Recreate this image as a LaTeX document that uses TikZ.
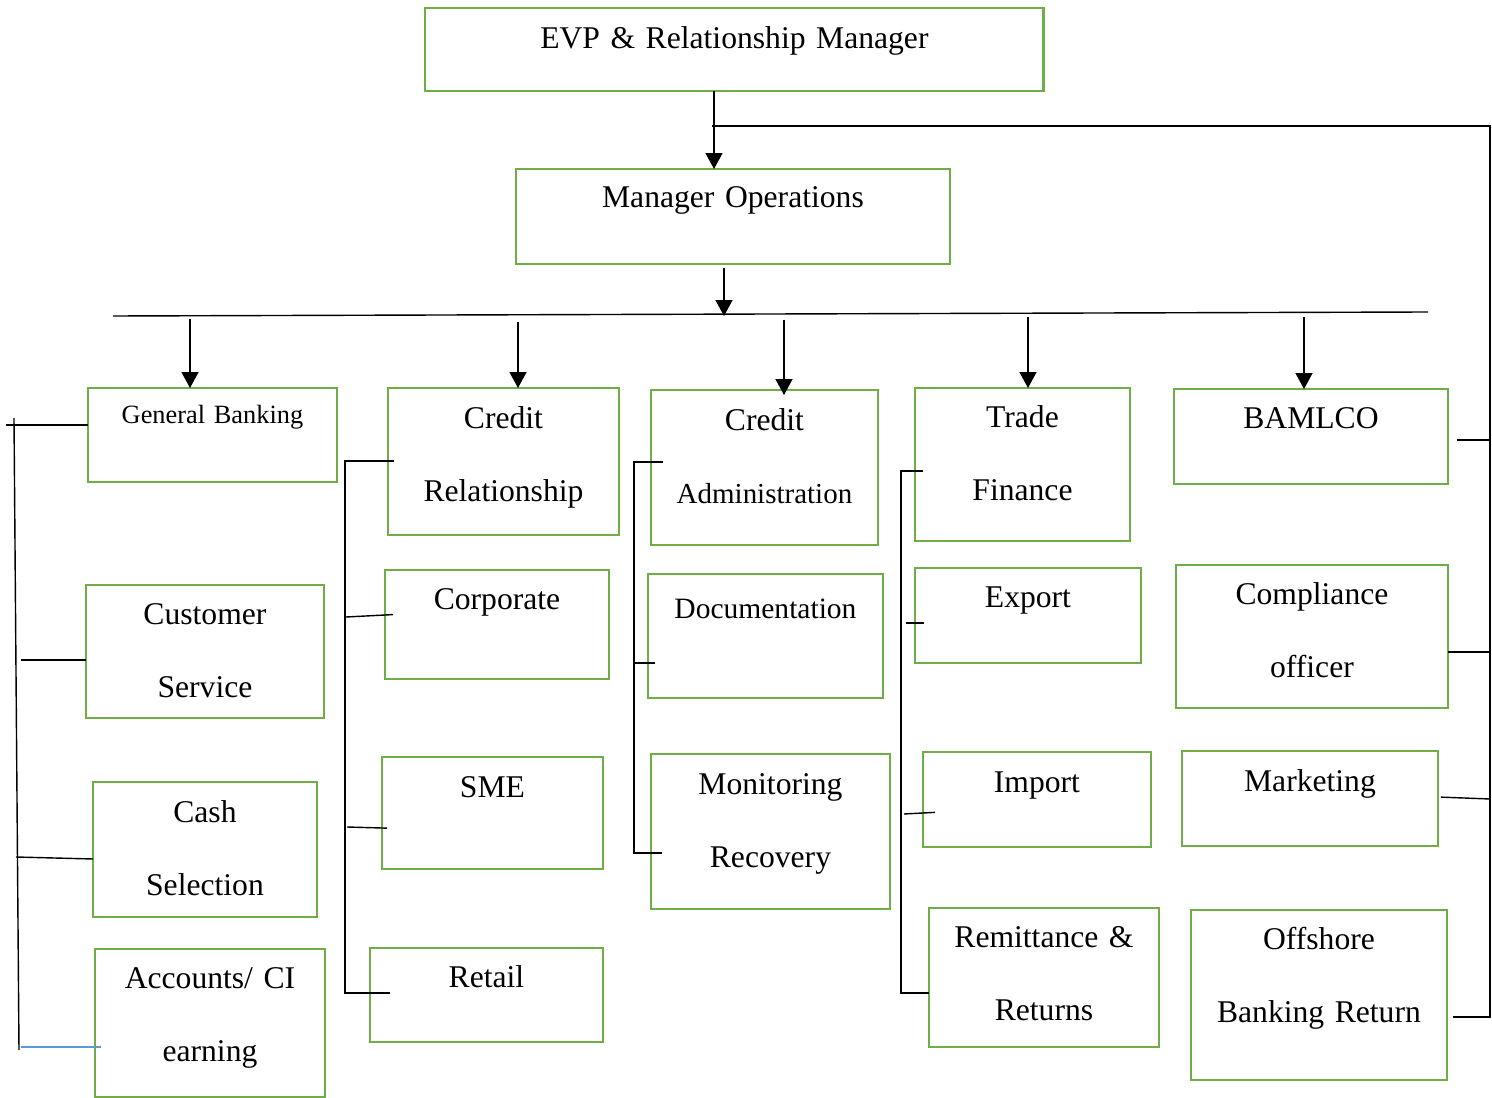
\documentclass[tikz,border=0pt]{standalone}
\usepackage{fontspec}
\setmainfont{Liberation Serif}
\usetikzlibrary{arrows.meta}
\definecolor{boxgreen}{RGB}{112,173,71}
\definecolor{linkblue}{RGB}{91,155,213}
\tikzset{
  orgbox/.style={draw=boxgreen, line width=1.6pt, inner sep=0pt, outer sep=0pt,
    anchor=north west, align=center, text height=0.8cm,
    font=\fontsize{18}{41.4}\selectfont},
  link/.style={line width=0.8pt},
  down/.style={link, -{Triangle[width=0.34cm,length=0.32cm]}}
}
\begin{document}
\begin{tikzpicture}[x=0.02cm, y=-0.02cm]
        \useasboundingbox (0,0) rectangle (1492,1098);

        \node (evp) [orgbox, text width=12.38cm, text height=0.82cm, text depth=0.84cm]
          at (425,8) {EVP \& Relationship Manager};
        \node (mops) [orgbox, text width=8.68cm, text height=0.78cm, text depth=1.12cm]
          at (516,169) {Manager Operations};

        \node (genb) [orgbox, text width=4.98cm, text height=0.72cm, text depth=1.16cm,
          font=\fontsize{15}{18}\selectfont]
          at (88,388) {General Banking};
        \node (custsrv) [orgbox, text width=4.76cm, text depth=1.86cm]
          at (86,585) {Customer\\Service};
        \node (cash) [orgbox, text width=4.48cm, text height=0.82cm, text depth=1.88cm]
          at (93,782) {Cash\\Selection};
        \node (accts) [orgbox, text width=4.60cm, text depth=2.16cm]
          at (95,949) {Accounts/ CI\\earning};

        \node (credrel) [orgbox, text width=4.62cm, text height=0.82cm, text depth=2.12cm]
          at (388,388) {Credit\\Relationship};
        \node (corp) [orgbox, text width=4.48cm, text depth=1.38cm]
          at (385,570) {Corporate};
        \node (sme) [orgbox, text width=4.42cm, text height=0.82cm, text depth=1.42cm]
          at (382,757) {SME};
        \node (retail) [orgbox, text width=4.66cm, text depth=1.08cm]
          at (370,948) {Retail};

        \node (credadm) [orgbox, text width=4.54cm, text height=0.82cm, text depth=2.28cm]
          at (651,390) {Credit\\{\fontsize{16.5}{41.4}\selectfont Administration}};
        \node (docu) [orgbox, text width=4.70cm, text height=0.90cm, text depth=1.58cm,
          font=\fontsize{16.8}{41.4}\selectfont]
          at (648,574) {Documentation};
        \node (monrec) [orgbox, text width=4.78cm, text height=0.82cm, text depth=2.28cm]
          at (651,754) {Monitoring\\Recovery};

        \node (trade) [orgbox, text width=4.30cm, text depth=2.26cm]
          at (915,388) {Trade\\Finance};
        \node (export) [orgbox, text width=4.52cm, text depth=1.10cm]
          at (915,568) {Export};
        \node (import) [orgbox, text width=4.56cm, text height=0.82cm, text depth=1.08cm]
          at (923,752) {Import};
        \node (remit) [orgbox, text width=4.60cm, text depth=1.98cm]
          at (929,908) {Remittance \&\\Returns};

        \node (bamlco) [orgbox, text width=5.48cm, text depth=1.10cm]
          at (1174,389) {BAMLCO};
        \node (compl) [orgbox, text width=5.44cm, text depth=2.06cm]
          at (1176,565) {Compliance\\officer};
        \node (mkt) [orgbox, text width=5.12cm, text height=0.82cm, text depth=1.08cm]
          at (1182,751) {Marketing};
        \node (offsh) [orgbox, text width=5.12cm, text depth=2.60cm]
          at (1191,910) {Offshore\\Banking Return};

        \coordinate (e1) at (714,91);
        \coordinate (m1) at (724,268);
        \coordinate (busL) at (113,316);
        \coordinate (busR) at (1428,312);
        \coordinate (t1) at (190,319);
        \coordinate (t2) at (518,322);
        \coordinate (t3) at (784,320);
        \coordinate (t4) at (1028,317);
        \coordinate (t5) at (1304,317);

        \draw [down] (e1) -- (e1 |- mops.north);
        \draw [down] (m1) -- (m1 |- busL);
        \draw [link] (busL) -- (busR);
        \draw [down] (t1) -- (t1 |- genb.north);
        \draw [down] (t2) -- (t2 |- credrel.north);
        \draw [down, shorten >=-0.1cm] (t3) -- (t3 |- credadm.north);
        \draw [down] (t4) -- (t4 |- trade.north);
        \draw [down] (t5) -- (t5 |- bamlco.north);

        % right loop
        \coordinate (r0) at (712,126);
        \coordinate (rtop) at (1490,126);
        \coordinate (rbot) at (1490,1017);
        \draw [link, shorten >=0.12cm]
          (r0)
          -- (rtop)
          -- (rbot)
          -- (rbot -| offsh.east)
        ;
        \draw [link, shorten <=0.18cm] (bamlco.east |- 0,440) -- (rtop |- 0,440);
        \draw [link] (compl.east |- 0,652) -- (rtop |- 0,652);
        \draw [link, shorten <=0.06cm] (mkt.east |- 0,797) -- (rtop |- 0,799);

        % general banking
        \coordinate (l0) at (14,418);
        \coordinate (l1) at (6,425);
        \coordinate (l2) at (21,660);
        \coordinate (l3) at (16,857);
        \coordinate (l4) at (21,1047);
        \draw [link] (l0) -- (19,1050);
        \draw [link] (l1) -- (l1 -| genb.west);
        \draw [link] (l2) -- (l2 -| custsrv.west);
        \draw [link] (l3) -- (cash.west |- 0,859);
        \draw [linkblue, line width=0.8pt, shorten >=-0.12cm] (l4) -- (l4 -| accts.west);

        % credit relationship
        \coordinate (c2a) at (345,461);
        \coordinate (c2b) at (345,993);
        \draw [link, shorten <=-0.12cm, shorten >=-0.4cm]
          (c2a -| credrel.west)
          -- (c2a)
          -- (c2b)
          -- (c2b -| retail.west)
        ;
        \draw [link, shorten >=-0.16cm] (346,617) -- (corp.west |- 0,615);
        \draw [link, shorten >=-0.1cm] (347,827) -- (sme.west |- 0,828);

        % credit administration
        \coordinate (c3a) at (634,462);
        \coordinate (c3b) at (634,853);
        \draw [link, shorten <=-0.24cm, shorten >=-0.22cm]
          (c3a -| credadm.west)
          -- (c3a)
          -- (c3b)
          -- (c3b -| monrec.west)
        ;
        \draw [link, shorten >=-0.14cm] (633,663) -- (docu.west |- 0,663);

        % trade finance
        \coordinate (c4a) at (901,471);
        \coordinate (c4b) at (901,993);
        \draw [link, shorten <=-0.16cm]
          (c4a -| trade.west)
          -- (c4a)
          -- (c4b)
          -- (c4b -| remit.west)
        ;
        \draw [link, shorten >=-0.18cm] (906,623) -- (export.west |- 0,623);
        \draw [link, shorten >=-0.24cm] (904,814) -- (import.west |- 0,813);
      \end{tikzpicture}
\end{document}
